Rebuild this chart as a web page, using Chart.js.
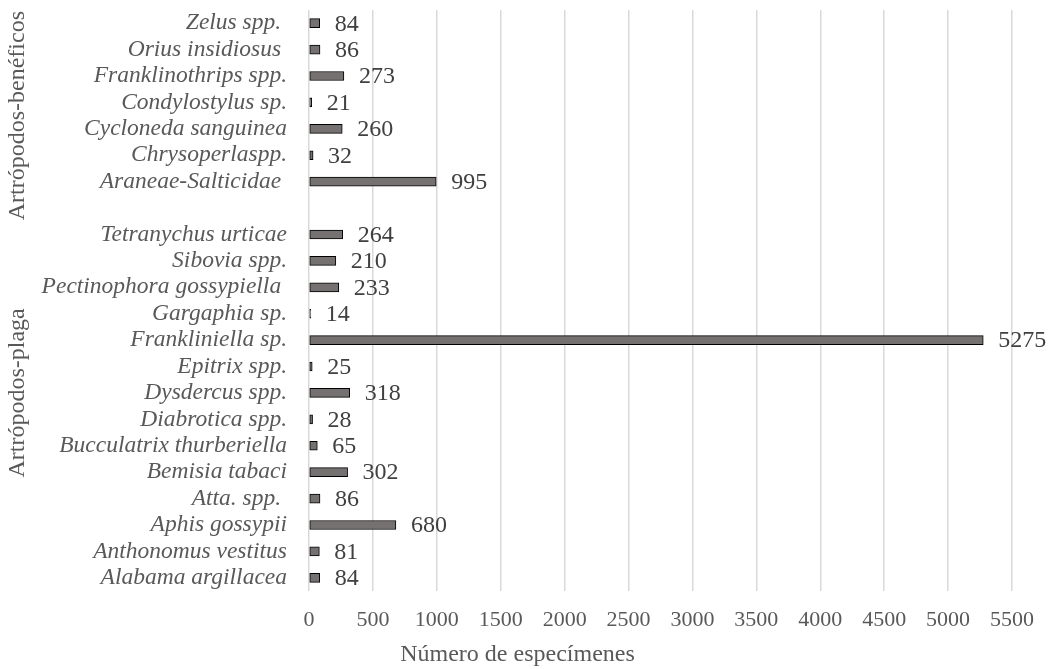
<!DOCTYPE html>
<html><head><meta charset="utf-8">
<script src="https://cdn.jsdelivr.net/npm/chart.js@4"></script>
<style>html,body{margin:0;padding:0;background:#fff}#w{width:1051px;height:669px}</style>
</head><body><div id="w"><canvas id="c" width="1051" height="669"></canvas></div>
<script>
const categories = ["Zelus spp. ","Orius insidiosus ","Franklinothrips spp.","Condylostylus sp.","Cycloneda sanguinea","Chrysoperlaspp.","Araneae-Salticidae ","","Tetranychus urticae","Sibovia spp.","Pectinophora gossypiella ","Gargaphia sp.","Frankliniella sp.","Epitrix spp.","Dysdercus spp.","Diabrotica spp.","Bucculatrix thurberiella","Bemisia tabaci","Atta. spp. ","Aphis gossypii","Anthonomus vestitus","Alabama argillacea"];
const specimens = [84,86,273,21,260,32,995,null,264,210,233,14,5275,25,318,28,65,302,86,680,81,84];
const groupNames = ["Artrópodos-benéficos","Artrópodos-plaga"];
const groupRanges = [[0,7],[7,21]];
const xTicks = [0,500,1000,1500,2000,2500,3000,3500,4000,4500,5000,5500];
const axisTitle = "Número de especímenes";

const serif = "'Liberation Serif','Times New Roman',serif";

const valueLabels = {
  id:'valueLabels',
  afterDatasetsDraw(chart){
    const ctx = chart.ctx;
    const meta = chart.getDatasetMeta(0);
    ctx.save();
    ctx.font = "24px " + serif;
    ctx.fillStyle = "#404040";
    ctx.textAlign = "left";
    ctx.textBaseline = "middle";
    meta.data.forEach((bar,i)=>{
      const v = specimens[i];
      if (v === null) return;
      ctx.fillText(String(v), bar.x + 15, bar.y + 1);
    });
    ctx.restore();
  }
};
const extraText = {
  id:'extraText',
  afterDraw(chart){
    const ctx = chart.ctx;
    const y = chart.scales.y;
    ctx.save();
    ctx.font = "24px " + serif;
    ctx.fillStyle = "#595959";
    ctx.textAlign = "center";
    ctx.textBaseline = "middle";
    groupNames.forEach((name,g)=>{
      const [a,b] = groupRanges[g];
      const cy = (y.getPixelForValue(a) + y.getPixelForValue(b))/2;
      ctx.save();
      ctx.translate(18, cy);
      ctx.rotate(-Math.PI/2);
      ctx.fillText(name, 0, 0);
      ctx.restore();
    });
    ctx.fillText(axisTitle, chart.width/2 - 8, chart.chartArea.bottom + 64);
    ctx.restore();
  }
};

new Chart(document.getElementById('c'), {
  type:'bar',
  data:{ labels: categories, datasets:[{ data: specimens, backgroundColor:'#767171', borderColor:'#000000', borderWidth:1, barThickness:9, borderSkipped:false }]},
  options:{
    indexAxis:'y', responsive:false, animation:false,
    layout:{ padding:{ top:10, right:39, left:0, bottom:0 } },
    plugins:{ legend:{display:false}, tooltip:{enabled:false} },
    scales:{
      x:{
        min:0, max:5500,
        afterBuildTicks(s){ s.ticks = xTicks.map(v=>({value:v})); },
        afterFit(s){ s.height = 78; s.paddingLeft = 0; s.paddingRight = 0; },
        grid:{ color:'#d9d9d9', lineWidth:1.5, drawTicks:false },
        border:{ display:false },
        ticks:{ font:{family:serif, size:22}, color:'#595959', padding:16, callback:(v)=>String(v) }
      },
      y:{
        afterFit(s){ s.width = 309; s.paddingTop = 0; s.paddingBottom = 0; },
        grid:{ display:false, drawTicks:false },
        border:{ display:false },
        ticks:{ font:{family:serif, size:23.5, style:'italic'}, color:'#595959', padding:22, autoSkip:false }
      }
    }
  },
  plugins:[valueLabels, extraText]
});
</script>
</body></html>
